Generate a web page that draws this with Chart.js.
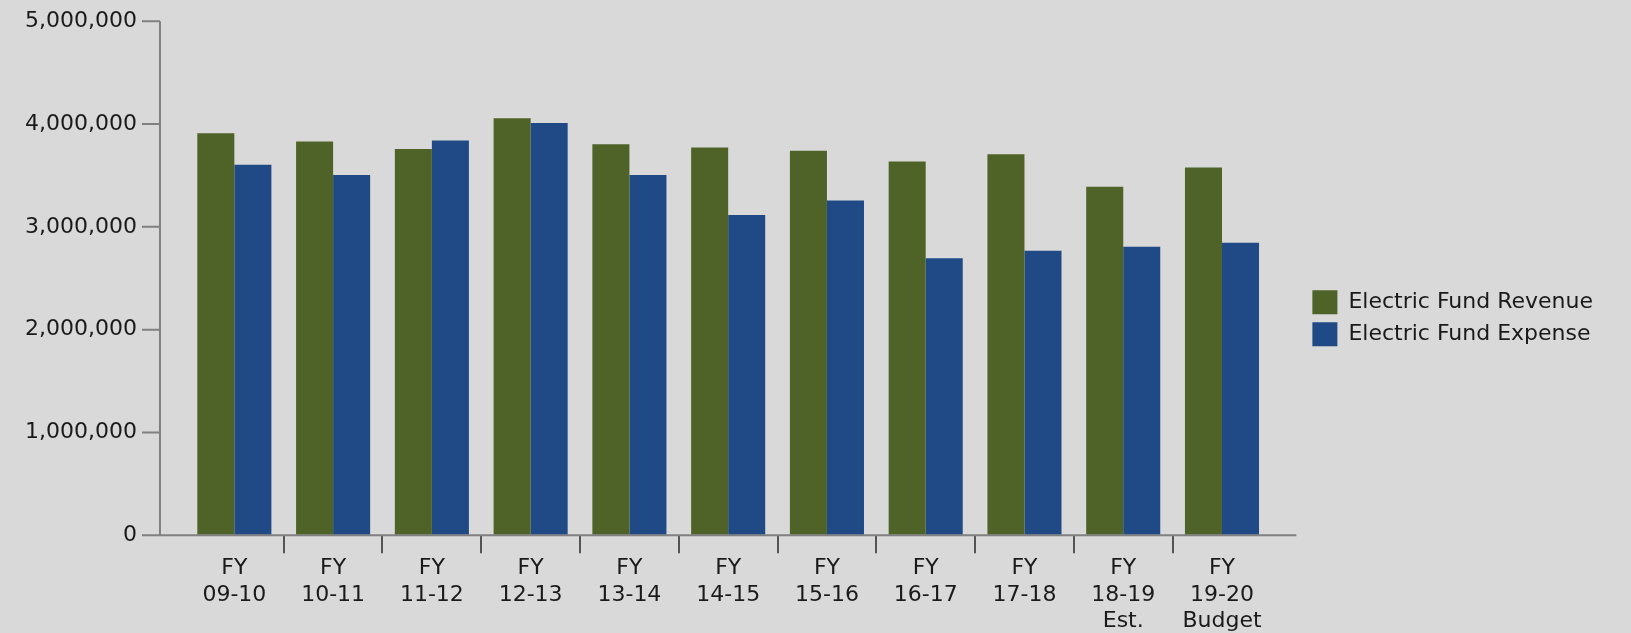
<!DOCTYPE html>
<html>
<head>
<meta charset="utf-8">
<script src="https://cdn.jsdelivr.net/npm/chart.js@4.4.0/dist/chart.umd.min.js"></script>
<style>
  html, body { margin: 0; padding: 0; background: #d9d9d9; }
  #wrap { width: 1631px; height: 633px; }
</style>
</head>
<body>
<div id="wrap"><canvas id="Chart"></canvas></div>
<script>
var years = [
    ['FY', '09-10'], ['FY', '10-11'], ['FY', '11-12'], ['FY', '12-13'],
    ['FY', '13-14'], ['FY', '14-15'], ['FY', '15-16'], ['FY', '16-17'],
    ['FY', '17-18'], ['FY', '18-19', 'Est.'], ['FY', '19-20', 'Budget']
]
var revenue = [3911000, 3830000, 3756000, 4057000, 3804000, 3771000, 3739000, 3635000, 3707000, 3391000, 3576000]
var expense = [3603000, 3505000, 3839000, 4009000, 3505000, 3116000, 3255000, 2694000, 2768000, 2807000, 2846000]
var yTicks = [0, 1000000, 2000000, 3000000, 4000000, 5000000]

var AXIS_GAP = 25
var LEGEND_GAP = 33
var labelFont = { family: 'DejaVu Sans', size: 22 }

// axis lines sit a little outside the category band, like the original
const axisLines = {
    id: 'axisLines',
    afterInit(chart) {
        // leave room between the plot and the legend
        const lg = chart.legend
        const fit = lg.fit
        lg.fit = function() {
            fit.call(this)
            this.width += LEGEND_GAP
        }
    },
    afterLayout(chart) {
        chart.legend.left += LEGEND_GAP
    },
    afterDraw(chart) {
        const ctx = chart.ctx
        const a = chart.chartArea
        const y = chart.scales.y
        const x0 = a.left - AXIS_GAP
        ctx.save()
        ctx.strokeStyle = '#808080'
        ctx.lineWidth = 2
        ctx.beginPath()
        ctx.moveTo(x0, y.getPixelForValue(yTicks[yTicks.length - 1]))
        ctx.lineTo(x0, a.bottom)
        ctx.lineTo(a.right + AXIS_GAP, a.bottom)
        yTicks.forEach(function(v) {
            const py = y.getPixelForValue(v)
            ctx.moveTo(x0 - 18, py)
            ctx.lineTo(x0, py)
        })
        ctx.stroke()
        ctx.restore()
    }
}

const ctx = document.getElementById('Chart')
window.myChart = new Chart(ctx, {
    type: 'bar',
    data: {
        labels: years,
        datasets: [{
            label: 'Electric Fund Revenue',
            data: revenue,
            backgroundColor: '#4f6228'
        }, {
            label: 'Electric Fund Expense',
            data: expense,
            backgroundColor: '#1f4a86'
        }]
    },
    options: {
        responsive: true,
        maintainAspectRatio: false,
        animation: false,
        layout: {
            padding: { left: 17, top: 0, right: 28, bottom: -3.5 }
        },
        datasets: {
            bar: { categoryPercentage: 0.75, barPercentage: 1 }
        },
        scales: {
            x: {
                offset: true,
                border: { display: false },
                grid: {
                    offset: true,
                    drawOnChartArea: false,
                    drawTicks: true,
                    tickLength: 18,
                    lineWidth: 2,
                    color: function(c) {
                        return (c.index === undefined || c.index === 0) ? 'rgba(0,0,0,0)' : '#555555'
                    }
                },
                ticks: {
                    font: labelFont,
                    color: '#1a1a1a',
                    padding: 2,
                    maxRotation: 0,
                    autoSkip: false
                }
            },
            y: {
                min: 0,
                max: 5000000,
                border: { display: false },
                grid: {
                    drawOnChartArea: false,
                    drawTicks: true,
                    tickLength: 40,
                    color: 'rgba(0,0,0,0)'
                },
                ticks: {
                    stepSize: 1000000,
                    font: labelFont,
                    color: '#1a1a1a',
                    padding: 8,
                    callback: function(v) { return v.toLocaleString('en-US') }
                }
            }
        },
        plugins: {
            legend: {
                position: 'right',
                labels: {
                    boxWidth: 25,
                    boxHeight: 24,
                    padding: 8,
                    color: '#1a1a1a',
                    font: labelFont
                }
            },
            tooltip: { enabled: false }
        }
    },
    plugins: [axisLines]
})
</script>
</body>
</html>
